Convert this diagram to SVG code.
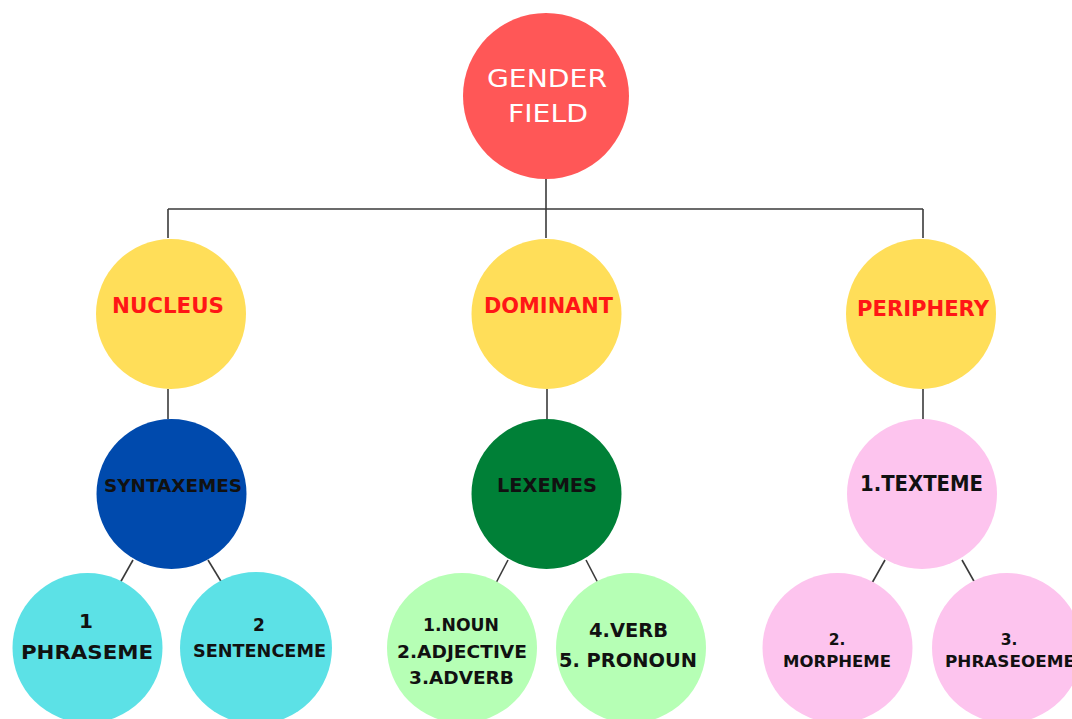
<svg xmlns="http://www.w3.org/2000/svg" width="1072" height="719" viewBox="0 0 1072 719">
<style>
.c{stroke:#3a3a3a;stroke-width:1.6;fill:none}
text{font-family:"DejaVu Sans","Liberation Sans",sans-serif;font-weight:bold;text-anchor:middle}
.w{fill:#ffffff;font-weight:500;font-size:25px}
.r{fill:#ff1616;font-size:20.5px}
.k{fill:#111111}
</style>
<rect width="1072" height="719" fill="#ffffff"/>
<g id="connectors">
<line class="c" x1="546" y1="179" x2="546" y2="238"/>
<line class="c" x1="168" y1="209" x2="923" y2="209"/>
<line class="c" x1="168" y1="209" x2="168" y2="238"/>
<line class="c" x1="923" y1="209" x2="923" y2="238"/>
<line class="c" x1="168" y1="389" x2="168" y2="419"/>
<line class="c" x1="547" y1="389" x2="547" y2="419"/>
<line class="c" x1="923" y1="389" x2="923" y2="419"/>
<line class="c" x1="133" y1="560" x2="120" y2="583"/>
<line class="c" x1="208" y1="560" x2="222" y2="583"/>
<line class="c" x1="508" y1="560" x2="496" y2="583"/>
<line class="c" x1="586" y1="560" x2="598" y2="583"/>
<line class="c" x1="885" y1="560" x2="872" y2="583"/>
<line class="c" x1="962" y1="560" x2="975" y2="583"/>
</g>
<g id="gender-field">
<circle cx="546" cy="96" r="83" fill="#ff5757"/>
<text class="w" x="547" y="87" textLength="120" lengthAdjust="spacingAndGlyphs">GENDER</text>
<text class="w" x="548" y="122" textLength="80" lengthAdjust="spacingAndGlyphs">FIELD</text>
</g>
<g id="nucleus">
<circle cx="171" cy="314" r="75" fill="#ffde59"/>
<text class="r" x="168" y="313" textLength="112" lengthAdjust="spacingAndGlyphs">NUCLEUS</text>
</g>
<g id="dominant">
<circle cx="546.5" cy="314" r="75" fill="#ffde59"/>
<text class="r" x="548.5" y="313" textLength="129" lengthAdjust="spacingAndGlyphs">DOMINANT</text>
</g>
<g id="periphery">
<circle cx="921" cy="314" r="75" fill="#ffde59"/>
<text class="r" x="923" y="316" textLength="132" lengthAdjust="spacingAndGlyphs">PERIPHERY</text>
</g>
<g id="syntaxemes">
<circle cx="171.5" cy="494" r="75" fill="#004aad"/>
<text class="k" x="173" y="492" font-size="18.5" textLength="138" lengthAdjust="spacingAndGlyphs">SYNTAXEMES</text>
</g>
<g id="lexemes">
<circle cx="546.5" cy="494" r="75" fill="#008037"/>
<text class="k" x="547" y="492" font-size="19" textLength="100" lengthAdjust="spacingAndGlyphs">LEXEMES</text>
</g>
<g id="texteme">
<circle cx="922" cy="494" r="75" fill="#fdc4ee"/>
<text class="k" x="921.5" y="491" font-size="20.5" textLength="123" lengthAdjust="spacingAndGlyphs">1.TEXTEME</text>
</g>
<g id="phraseme">
<circle cx="87.5" cy="648" r="75" fill="#5ce1e6"/>
<text class="k" x="86" y="628" font-size="20">1</text>
<text class="k" x="87" y="659" font-size="20" textLength="132" lengthAdjust="spacingAndGlyphs">PHRASEME</text>
</g>
<g id="sentenceme">
<circle cx="256" cy="648" r="76" fill="#5ce1e6"/>
<text class="k" x="259" y="631" font-size="17">2</text>
<text class="k" x="259.5" y="657" font-size="17" textLength="133" lengthAdjust="spacingAndGlyphs">SENTENCEME</text>
</g>
<g id="noun-adjective-adverb">
<circle cx="462" cy="648" r="75" fill="#b6ffb5"/>
<text class="k" x="461" y="631" font-size="18.5" textLength="76" lengthAdjust="spacingAndGlyphs">1.NOUN</text>
<text class="k" x="462" y="658" font-size="18.5" textLength="130" lengthAdjust="spacingAndGlyphs">2.ADJECTIVE</text>
<text class="k" x="461.5" y="684" font-size="18.5" textLength="105" lengthAdjust="spacingAndGlyphs">3.ADVERB</text>
</g>
<g id="verb-pronoun">
<circle cx="631" cy="648" r="75" fill="#b6ffb5"/>
<text class="k" x="628.5" y="637" font-size="19.5" textLength="79" lengthAdjust="spacingAndGlyphs">4.VERB</text>
<text class="k" x="628" y="667" font-size="19.5" textLength="138" lengthAdjust="spacingAndGlyphs">5. PRONOUN</text>
</g>
<g id="morpheme">
<circle cx="837.5" cy="648" r="75" fill="#fdc4ee"/>
<text class="k" x="837" y="645" font-size="15.5">2.</text>
<text class="k" x="837" y="667" font-size="15.5" textLength="108" lengthAdjust="spacingAndGlyphs">MORPHEME</text>
</g>
<g id="phraseoeme">
<circle cx="1007" cy="648" r="75" fill="#fdc4ee"/>
<text class="k" x="1009" y="645" font-size="15.5">3.</text>
<text class="k" x="945" y="667" font-size="15.5" style="text-anchor:start" textLength="130" lengthAdjust="spacingAndGlyphs">PHRASEOEME</text>
</g>
</svg>
